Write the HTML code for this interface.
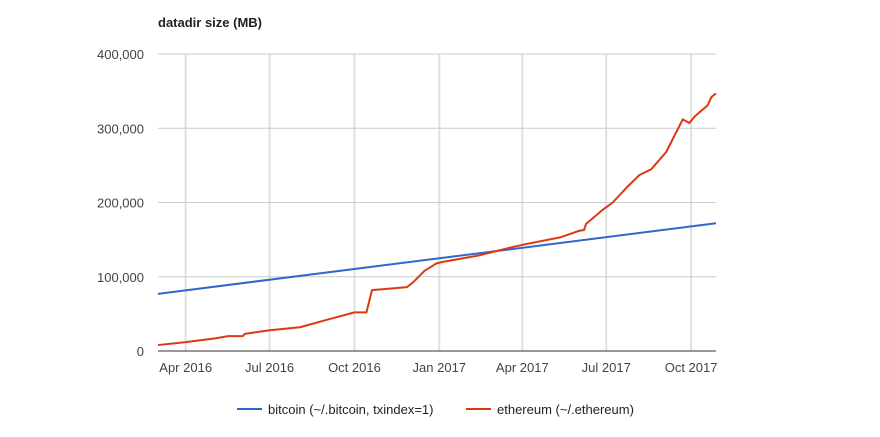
<!DOCTYPE html>
<html><head><meta charset="utf-8"><style>
body{margin:0;background:#fff;font-family:"Liberation Sans",Arial,sans-serif}
svg text{font-family:"Liberation Sans",Arial,sans-serif}
</style></head><body>
<svg id="c" width="880" height="432">
<text x="158" y="27" font-size="13" font-weight="bold" fill="#222">datadir size (MB)</text>
<g id="grid"></g><g id="series"></g>
<g>
<line x1="237" y1="409" x2="262" y2="409" stroke="#3366cc" stroke-width="2"/>
<text x="268" y="414" font-size="13" fill="#222">bitcoin (~/.bitcoin, txindex=1)</text>
<line x1="466" y1="409" x2="491" y2="409" stroke="#dc3912" stroke-width="2"/>
<text x="497" y="414" font-size="13" fill="#222">ethereum (~/.ethereum)</text>
</g>
</svg>
<script>
// days since 2016-03-02
const yTicks=[0,100000,200000,300000,400000];
const yTickLabels=["0","100,000","200,000","300,000","400,000"];
const xTickDays=[30,121,213,305,395,486,578];
const xTickLabels=["Apr 2016","Jul 2016","Oct 2016","Jan 2017","Apr 2017","Jul 2017","Oct 2017"];
const btcDays=[0,605];
const btcValues=[77000,172000];
const ethDays=[0,30,62,76,92,94,121,154,186,213,226,232,270,277,289,302,309,349,381,399,436,457,462,464,482,493,508,522,535,551,569,576,582,596,600,605];
const ethValues=[8000,12000,17000,20000,20000,23000,28000,32000,43000,52000,52000,82000,86000,93000,108000,118000,120000,129000,139000,144000,153000,162000,163000,171000,190000,200000,220000,237000,245000,268000,312000,307000,316000,331000,342000,347000];
const X0=158,X1=716,Y0=351,Y1=54,DMAX=605,VMAX=400000;
const xs=d=>X0+d/DMAX*(X1-X0);
const ys=v=>Y0-v/VMAX*(Y0-Y1);
const NS="http://www.w3.org/2000/svg";
const g=document.getElementById('grid'),s=document.getElementById('series');
function mk(tag,at,par){const e=document.createElementNS(NS,tag);for(const k in at)e.setAttribute(k,at[k]);par.appendChild(e);return e;}
xTickDays.forEach((d,i)=>{
 const l=mk('line',{x1:xs(d),x2:xs(d),y1:Y1,y2:Y0,stroke:'#e0e0e0','stroke-width':2},g);
 
 
 const t=mk('text',{x:xs(d),y:372,'font-size':13,fill:'#444','text-anchor':'middle'},g);t.textContent=xTickLabels[i];
 
 
});
yTicks.forEach((v,i)=>{
 const l=mk('line',{x1:X0,x2:X1,y1:ys(v),y2:ys(v),stroke:v===0?'#333':'#ccc','stroke-width':1},g);
 
 
 const t=mk('text',{x:144,y:ys(v)+5,'font-size':13,fill:'#444','text-anchor':'end'},g);t.textContent=yTickLabels[i];
 
 
});
function line(days,vals,col,name){
 const p=mk('polyline',{points:days.map((d,i)=>xs(d)+','+ys(vals[i])).join(' '),fill:'none',stroke:col,'stroke-width':2,'stroke-linejoin':'round'},s);
 
 
}
line(btcDays,btcValues,'#3366cc','bitcoin-line');
line(ethDays,ethValues,'#dc3912','ethereum-line');
</script>
</body></html>
